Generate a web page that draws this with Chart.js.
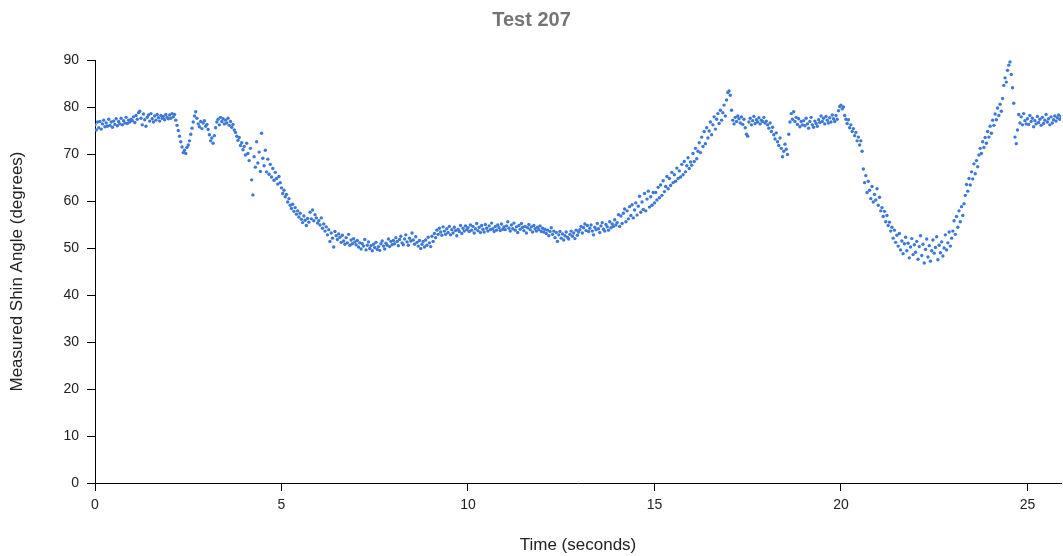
<!DOCTYPE html>
<html>
<head>
    <title>Test 207</title>
    <meta charset="UTF-8">
    <style>
        body {
            margin: 0;
            background: #ffffff;
            font-family: "Liberation Sans", Arial, sans-serif;
        }
        #wrap {
            width: 1063px;
            height: 556px;
        }
    </style>
</head>
<body>
    <div id="wrap">
        <canvas id="angleChart" width="1063" height="556"></canvas>
    </div>

    <script src="https://cdn.jsdelivr.net/npm/chart.js"></script>

    <script>
        // Chart text
        const chartTitle = 'Test 207';
        const xAxisTitle = 'Time (seconds)';
        const yAxisTitle = 'Measured Shin Angle (degrees)';

        // Samples are taken at a fixed rate, starting at t = 0 s
        const sampleRate = 30;

        // Measured shin angle (degrees), one row per second of recording
        const shinAngle = [
            76.2, 75.1, 76.8, 75.6, 76.9, 75.3, 76.4, 77.2, 75.8, 76.6, 75.9, 77.4, 76.1, 76.8, 75.7, 77.0, 76.3, 77.5, 76.0, 76.9, 76.4, 77.6, 76.2, 77.1, 76.6, 77.8, 76.5, 77.2, 76.8, 77.4,
            77.1, 77.9, 76.7, 78.2, 77.4, 78.8, 79.1, 77.6, 76.2, 78.5, 77.3, 75.9, 77.8, 78.3, 77.0, 78.6, 77.5, 76.8, 78.1, 77.2, 78.4, 77.7, 77.0, 78.2, 77.6, 78.0, 77.3, 78.4, 77.8, 77.5,
            78.3, 77.6, 78.6, 77.9, 78.4, 77.2, 76.1, 75.0, 73.8, 72.6, 71.5, 70.3, 70.8, 70.1, 71.4, 71.9, 72.8, 74.2, 75.5, 76.8, 78.1, 79.0, 77.6, 76.4, 75.8, 76.9, 75.4, 76.6, 77.1, 75.9,
            76.3, 75.2, 74.1, 72.8, 73.4, 72.3, 73.9, 75.6, 76.8, 77.4, 76.2, 77.8, 76.9, 77.5, 76.4, 77.2, 76.6, 77.6, 76.1, 76.9, 75.7, 76.3, 75.1, 74.6, 73.8, 72.9, 73.5, 71.8, 72.4, 70.9,
            71.6, 69.8, 72.3, 70.1, 68.6, 71.2, 64.5, 61.3, 69.4, 67.2, 72.6, 68.1, 70.4, 66.3, 74.4, 69.1, 67.5, 70.8, 66.2, 68.9, 65.7, 67.8, 65.1, 66.9, 64.4, 66.1, 64.8, 63.6, 65.2, 63.9,
            62.8, 61.6, 62.3, 60.9, 61.4, 59.8, 60.5, 59.1, 58.4, 59.3, 57.8, 58.6, 57.2, 57.9, 56.6, 57.4, 56.1, 55.4, 56.8, 55.9, 54.8, 56.3, 55.5, 57.6, 56.2, 58.1, 55.8, 57.1, 56.4, 55.3,
            55.8, 54.9, 56.4, 54.2, 55.1, 53.6, 54.5, 52.8, 53.9, 51.4, 53.2, 52.1, 50.2, 53.5, 52.6, 51.8, 53.0, 52.3, 51.2, 52.7, 51.5, 50.8, 52.2, 51.1, 52.9, 50.6, 51.7, 50.9, 52.0, 51.3,
            50.7, 51.6, 50.2, 51.1, 49.8, 50.9, 50.4, 51.8, 49.6, 50.6, 51.3, 49.9, 50.5, 49.4, 50.8, 50.1, 51.2, 49.7, 50.3, 49.5, 50.9, 51.5, 50.4, 49.8, 51.0, 50.6, 51.9, 50.3, 51.4, 50.7,
            51.6, 50.9, 52.2, 51.4, 50.5, 51.8, 52.5, 51.1, 50.7, 51.9, 52.8, 51.3, 50.6, 52.1, 51.5, 53.2, 51.7, 50.8, 52.4, 51.2, 50.4, 51.6, 49.9, 50.8, 51.4, 50.2, 51.7, 50.6, 52.3, 51.1,
            50.3, 52.5, 51.4, 53.1, 52.2, 53.8, 52.9, 54.2, 53.4, 52.7, 54.5, 53.6, 52.9, 54.1, 53.3, 54.6, 52.8, 53.9, 53.2, 54.4, 53.7, 52.6, 54.0, 53.5, 54.8, 53.1, 54.2, 53.6, 54.7, 53.9,
            54.3, 53.5, 54.9, 53.8, 54.6, 53.2, 54.1, 55.2, 53.7, 54.4, 53.3, 54.8, 54.0, 53.4, 55.0, 54.2, 53.6, 54.7, 53.9, 55.3, 54.1, 53.5, 54.6, 53.8, 54.9, 54.3, 53.7, 55.1, 54.0, 54.5,
            53.9, 54.7, 55.6, 54.2, 53.6, 54.9, 54.1, 55.3, 53.8, 54.5, 53.3, 54.8, 54.0, 55.2, 54.4, 53.7, 54.6, 53.2, 54.3, 55.0, 53.9, 54.5, 53.4, 54.8, 54.1, 53.6, 54.4, 53.9, 54.7, 53.5,
            54.2, 53.4, 54.0, 53.1, 53.8, 52.6, 53.5, 54.3, 52.9, 53.6, 52.2, 53.3, 51.4, 52.8, 53.5, 52.1, 53.0, 51.7, 52.6, 53.4, 52.3, 51.9, 52.9, 53.6, 52.5, 53.2, 52.0, 53.8, 52.7, 53.4,
            53.9, 54.6, 53.2, 54.3, 55.1, 53.7, 54.8, 53.5, 54.2, 54.9, 53.6, 52.8, 54.4, 53.9, 55.2, 54.1, 53.3, 54.7, 55.4, 54.0, 53.6, 55.0, 54.5, 53.8, 55.6, 54.3, 55.1, 54.6, 56.0, 54.9,
            55.4, 57.1, 54.6, 56.8, 55.2, 57.4, 58.3, 55.6, 57.9, 56.2, 58.8, 56.9, 59.2, 56.4, 58.1, 59.6, 57.0, 58.9, 61.0, 57.6, 59.8, 58.2, 61.6, 57.9, 60.4, 62.1, 58.7, 60.9, 59.1, 61.8,
            59.6, 61.8, 60.2, 62.9, 60.7, 63.4, 61.2, 64.3, 62.0, 63.1, 65.2, 62.6, 64.8, 63.3, 66.1, 63.9, 65.6, 64.2, 67.0, 64.8, 66.4, 65.1, 67.8, 65.6, 68.4, 66.2, 67.5, 69.2, 66.9, 68.3,
            67.6, 70.1, 68.4, 71.2, 69.0, 70.6, 72.4, 70.3, 73.6, 71.6, 74.8, 72.2, 75.6, 73.4, 74.9, 76.8, 74.1, 76.2, 77.9, 75.3, 77.4, 78.6, 76.5, 79.3, 77.2, 78.8, 80.4, 78.1, 81.5, 83.1,
            83.4, 82.5, 79.3, 77.2, 76.4, 77.8, 76.9, 78.1, 77.5, 76.6, 77.9, 76.3, 77.4, 75.6, 74.2, 73.8, 76.8, 77.6, 76.2, 77.1, 78.0, 76.5, 77.3, 76.8, 77.7, 76.4, 77.2, 76.9, 77.8, 76.6,
            77.0, 76.2, 75.5, 76.6, 74.8, 75.7, 74.1, 73.2, 74.5, 72.6, 71.8, 73.4, 71.2, 69.4, 70.6, 72.1, 71.0, 69.9, 74.2, 76.8, 78.6, 77.4, 79.0, 76.9, 77.8, 76.3, 77.5, 75.8, 76.9, 76.2,
            77.1, 76.0, 77.6, 76.4, 75.5, 76.9, 77.8, 76.2, 75.7, 77.0, 76.5, 75.9, 77.3, 76.7, 78.1, 76.9, 77.6, 76.4, 78.0, 77.2, 76.6, 77.7, 76.8, 78.3, 77.5, 76.9, 78.2, 77.4, 79.2, 80.1,
            80.4, 79.6, 80.0, 78.2, 77.4, 76.5, 77.3, 75.6, 76.2, 74.8, 75.4, 73.9, 74.6, 72.8, 73.6, 71.9, 72.8, 70.6, 66.8, 63.9, 65.4, 61.8, 64.2, 62.3, 60.5, 63.1, 59.8, 61.4, 60.2, 62.6,
            59.1, 60.8, 57.9, 58.6, 56.7, 57.8, 55.6, 56.9, 54.8, 55.5, 53.6, 54.4, 52.1, 53.8, 51.2, 52.7, 50.4, 53.1, 49.6, 51.5, 48.8, 50.9, 52.3, 49.4, 51.0, 47.9, 50.2, 52.0, 48.6, 50.7,
            49.1, 51.4, 47.6, 50.3, 52.6, 48.4, 50.8, 46.8, 49.7, 51.9, 48.1, 50.5, 47.2, 49.4, 51.7, 48.9, 50.1, 52.4, 47.5, 50.6, 49.0, 51.3, 48.3, 50.0, 52.8, 49.6, 51.1, 53.4, 50.4, 52.1,
            53.6, 55.8, 52.9, 56.7, 54.4, 57.9, 55.6, 58.8, 56.9, 59.4, 61.2, 63.5, 62.1, 64.8, 63.4, 66.2, 64.7, 67.9, 65.8, 68.6, 67.3, 69.8, 71.2, 70.1, 72.6, 71.4, 73.5, 72.3, 74.8, 73.6,
            75.9, 74.4, 77.2, 76.1, 78.5, 77.3, 79.8, 78.2, 80.6, 79.1, 81.8, 84.6, 86.2, 85.3, 87.8, 88.9, 89.6, 86.9, 84.1, 80.8, 73.6, 72.2, 75.1, 78.4, 76.6, 77.9, 76.2, 78.6, 77.1, 76.4,
            77.5, 76.3, 78.2, 76.9, 77.6, 75.8, 77.1, 76.4, 78.0, 76.7, 77.4, 76.1, 77.8, 76.5, 77.2, 78.4, 76.8, 77.5, 76.2, 77.9, 76.6, 77.3, 78.1, 77.0, 77.7, 78.3, 77.4, 78.0
        ];

        // Build {x, y} points from the sample index and the angle values
        const points = shinAngle.map((angle, i) => ({ x: i / sampleRate, y: angle }));

        const fontFamily = '"Liberation Sans", Arial, sans-serif';
        const tickFont = { family: fontFamily, size: 14 };
        const axisTitleFont = { family: fontFamily, size: 17 };

        const ctx = document.getElementById('angleChart').getContext('2d');

        const angleChart = new Chart(ctx, {
            type: 'scatter',
            data: {
                datasets: [{
                    label: yAxisTitle,
                    data: points,
                    backgroundColor: '#3b78d8',
                    borderColor: '#3b78d8',
                    borderWidth: 0,
                    pointRadius: 1.7,
                    pointHoverRadius: 2
                }]
            },
            options: {
                responsive: false,
                animation: false,
                layout: {
                    padding: { left: 0, right: 0, top: 0, bottom: 0 }
                },
                plugins: {
                    legend: { display: false },
                    tooltip: { enabled: false },
                    title: {
                        display: true,
                        text: chartTitle,
                        color: '#757575',
                        font: { family: fontFamily, size: 20, weight: 'bold' },
                        padding: { top: 8, bottom: 28 }
                    }
                },
                scales: {
                    x: {
                        type: 'linear',
                        min: 0,
                        max: 25.9,
                        afterFit: scale => { scale.height = 73; },
                        border: { color: '#000000', width: 1 },
                        grid: {
                            drawOnChartArea: false,
                            color: '#000000',
                            tickLength: 8
                        },
                        ticks: {
                            stepSize: 5,
                            includeBounds: false,
                            padding: 6,
                            color: '#222222',
                            font: tickFont,
                            maxRotation: 0
                        },
                        title: {
                            display: true,
                            text: xAxisTitle,
                            color: '#222222',
                            font: axisTitleFont,
                            padding: { top: 0, bottom: 0 }
                        }
                    },
                    y: {
                        min: 0,
                        max: 90,
                        afterFit: scale => { scale.width = 95; },
                        border: { color: '#000000', width: 1 },
                        grid: {
                            drawOnChartArea: false,
                            color: '#000000',
                            tickLength: 8
                        },
                        ticks: {
                            stepSize: 10,
                            padding: 8,
                            color: '#222222',
                            font: tickFont
                        },
                        title: {
                            display: true,
                            text: yAxisTitle,
                            color: '#222222',
                            font: axisTitleFont,
                            padding: { top: 7, bottom: 0 }
                        }
                    }
                }
            }
        });
    </script>
</body>
</html>
